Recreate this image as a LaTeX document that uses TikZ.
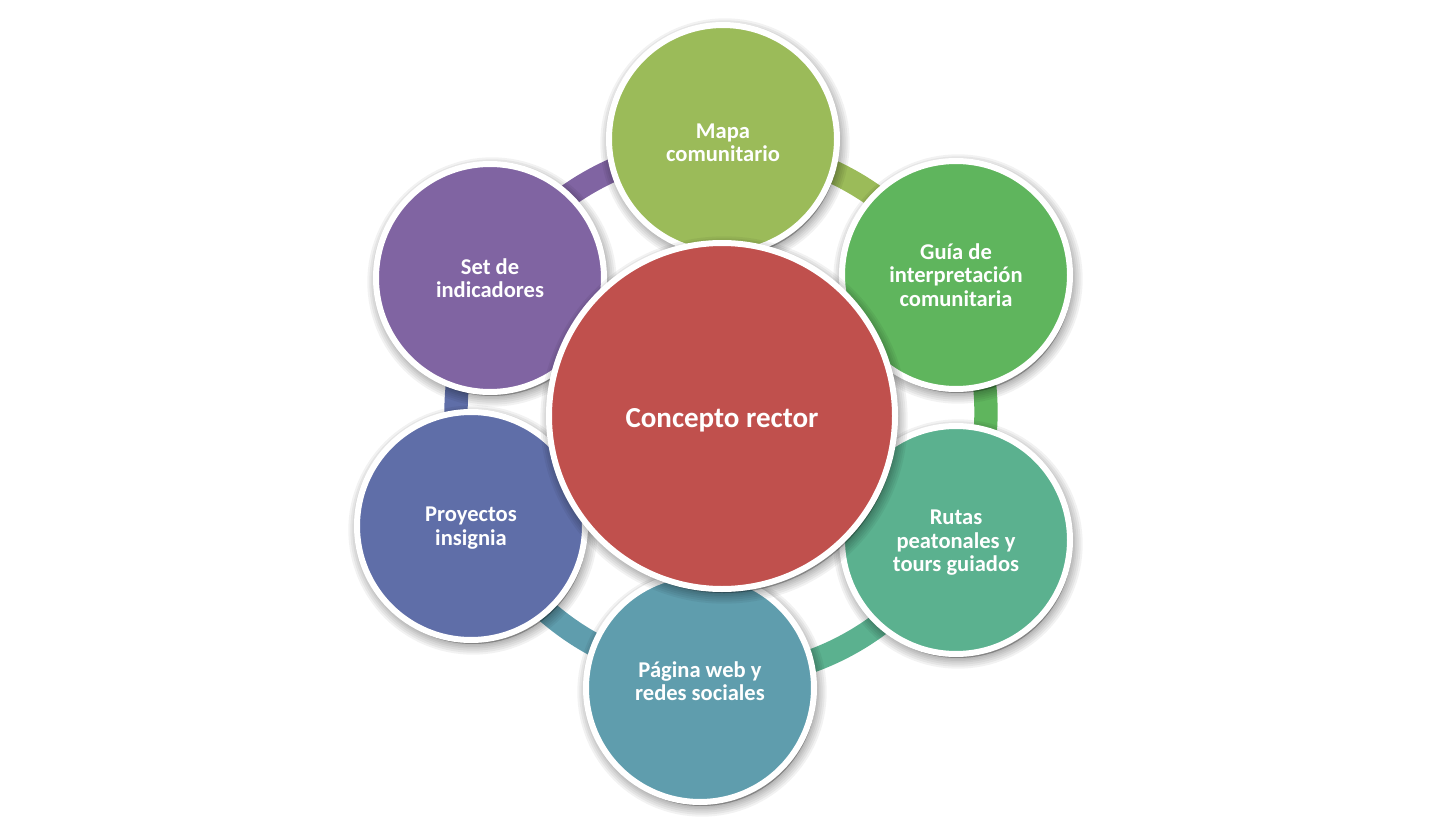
\documentclass[tikz,border=0pt]{standalone}
\usepackage{fontspec}
\setmainfont{Carlito}
\definecolor{cred}{HTML}{C0504D}
\definecolor{cmapa}{HTML}{9BBB59}
\definecolor{cguia}{HTML}{5FB55D}
\definecolor{crutas}{HTML}{5BB18F}
\definecolor{cpag}{HTML}{5F9DAD}
\definecolor{cproy}{HTML}{5F6EA8}
\definecolor{cset}{HTML}{8064A2}
\begin{document}
\begin{tikzpicture}[x=0.75pt,y=-0.75pt,
  shl/.style={preaction={draw=black,fill=black,opacity=0.05,line width=#1,
      transform canvas={shift={(1.5pt,-3pt)}}}},
  blurshadow/.style={shl=16pt,shl=13pt,shl=10pt,shl=7pt,shl=4.5pt,shl=2pt},
  outer/.style={circle, draw=white, line width=4.5pt, minimum size=171pt,
      inner sep=0pt, blurshadow, fill=#1},
  core/.style={circle, draw=white, line width=4.5pt, minimum size=259.5pt,
      inner sep=0pt, blurshadow, fill=cred},
  otxt/.style={text=white, align=center, inner sep=0pt,
      font=\bfseries\fontsize{16.9pt}{17.6pt}\selectfont},
  ctxt/.style={text=white, align=center, inner sep=0pt,
      font=\bfseries\fontsize{21.75pt}{24pt}\selectfont},
  ringseg/.style={line width=17.5pt, draw=#1}]
\useasboundingbox (0,0) rectangle (1447,817);
\fill[white] (0,0) rectangle (1447,817);

\coordinate (ringc) at (721,412);
\draw[ringseg=cmapa]  ([shift={(-89.6:265)}]ringc) arc[start angle=-89.6, end angle=-30.2, radius=265];
\draw[ringseg=cguia]  ([shift={(-30.2:265)}]ringc) arc[start angle=-30.2, end angle=28.6, radius=265];
\draw[ringseg=crutas] ([shift={(28.6:265)}]ringc) arc[start angle=28.6, end angle=94.4, radius=265];
\draw[ringseg=cpag]   ([shift={(94.4:265)}]ringc) arc[start angle=94.4, end angle=155.5, radius=265];
\draw[ringseg=cproy]  ([shift={(155.5:265)}]ringc) arc[start angle=155.5, end angle=210.1, radius=265];
\draw[ringseg=cset]   ([shift={(210.1:265)}]ringc) arc[start angle=210.1, end angle=270.4, radius=265];

\node[outer=cmapa]  (mapa)   at (723,139) {};
\node[outer=cguia]  (guia)   at (956,275) {};
\node[outer=crutas] (rutas)  at (956,540) {};
\node[outer=cpag]   (pagina) at (700,688) {};
\node[outer=cproy]  (proy)   at (471,526) {};
\node[outer=cset]   (set)    at (490,278) {};

\node[otxt] (tmapa)   at ([yshift=-3pt]mapa.center)     {Mapa\\comunitario};
\node[otxt] (tguia)   at (guia.center)                  {Guía de\\interpretación\\comunitaria};
\node[otxt] (trutas)  at ([yshift=-2.25pt]rutas.center) {Rutas\\peatonales y\\tours guiados};
\node[otxt] (tpagina) at ([yshift=5.25pt]pagina.center) {Página web y\\redes sociales};
\node[otxt] (tproy)   at ([yshift=-1.5pt]proy.center)   {Proyectos\\insignia};
\node[otxt] (tset)    at (set.center)                   {Set de\\indicadores};

\node[core] (centro) at (722,416) {};
\node[ctxt] (tcentro) at ([yshift=-3pt]centro.center) {Concepto rector};
\end{tikzpicture}
\end{document}
